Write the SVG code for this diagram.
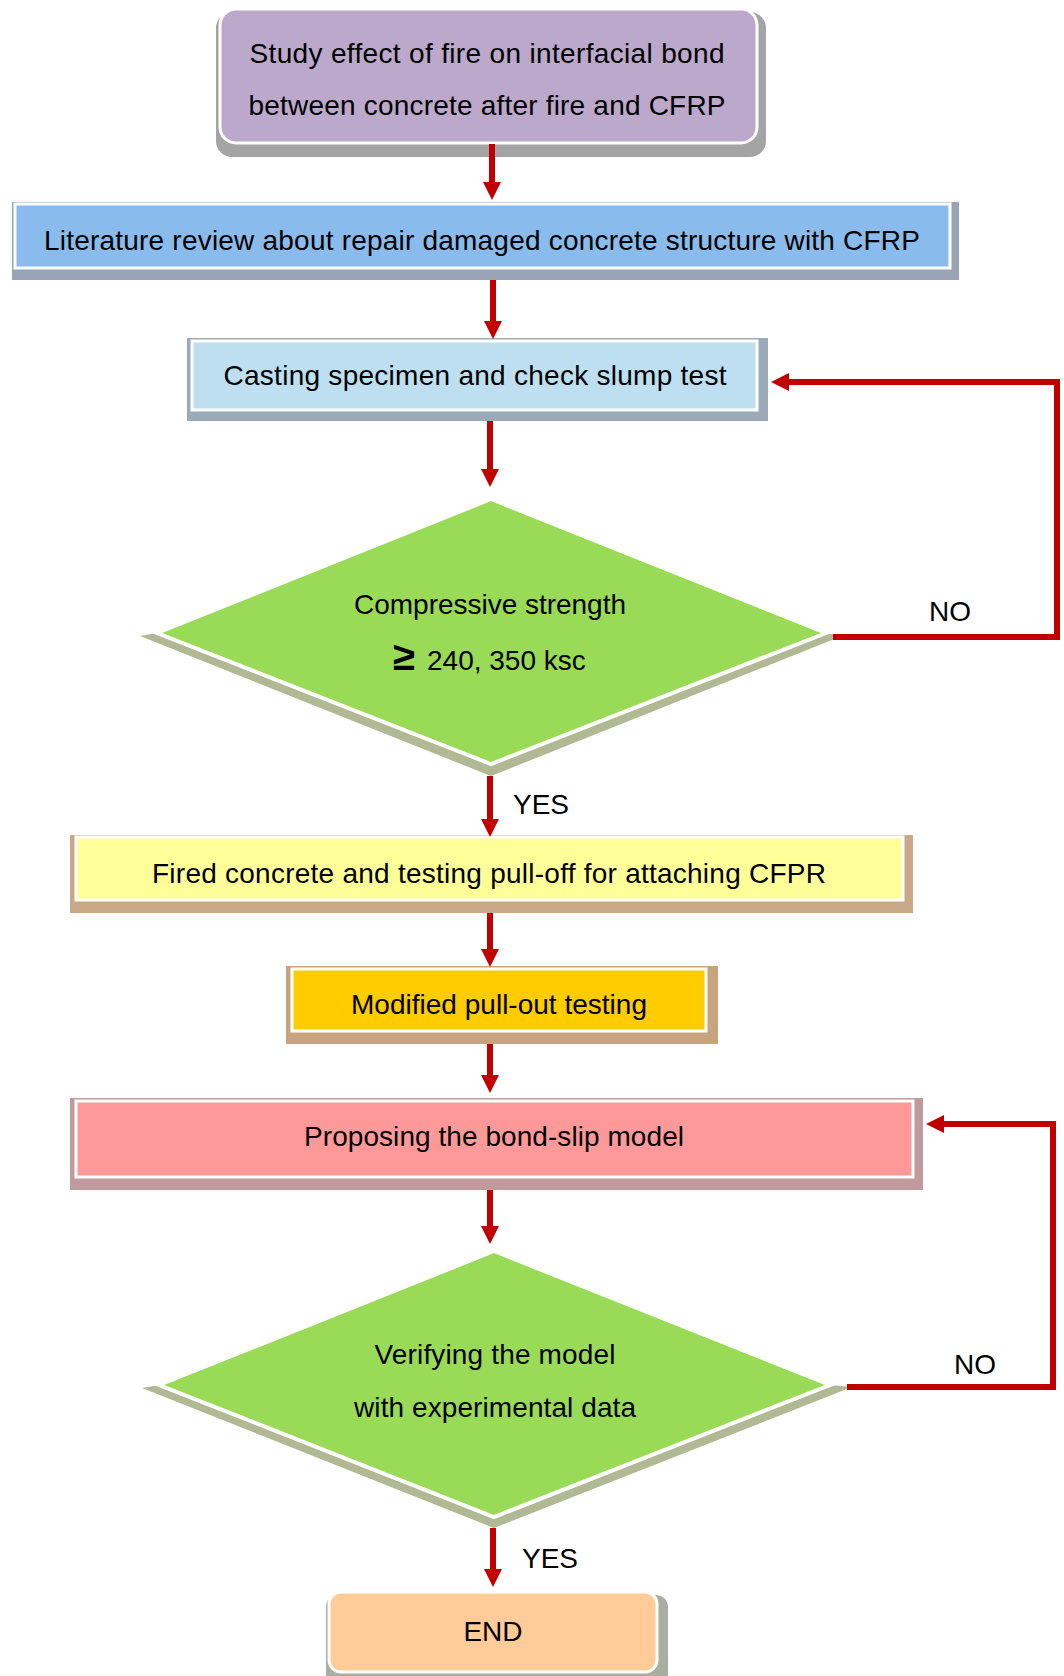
<svg xmlns="http://www.w3.org/2000/svg" width="1064" height="1676" viewBox="0 0 1064 1676">
<defs>
<style>
text{font-family:"Liberation Sans",Arial,sans-serif;font-size:28px;fill:#000;}
.c{text-anchor:middle;}
.box{stroke:#fff;stroke-width:3;}
.conn{fill:none;stroke:#C00000;stroke-width:6;}
</style>
<marker id="ah" markerUnits="userSpaceOnUse" markerWidth="18" markerHeight="18" refX="0" refY="9" orient="auto">
<path d="M0,0 L18,9 L0,18 z" fill="#C00000"/>
</marker>
</defs>
<rect width="1064" height="1676" fill="#fff"/>

<g id="start">
<rect x="216" y="12" width="550" height="145" rx="16" fill="#A4A4A4"/>
<rect class="box" x="220" y="9" width="537" height="134" rx="16" fill="#BBA8CB"/>
<text class="c" x="487" y="63" textLength="475" lengthAdjust="spacing">Study effect of fire on interfacial bond</text>
<text class="c" x="487" y="115" textLength="477" lengthAdjust="spacing">between concrete after fire and CFRP</text>
</g>

<g id="literature">
<rect x="12" y="202" width="947" height="78" fill="#98A4B4"/>
<rect class="box" x="15" y="204" width="935" height="64" fill="#89BBEC"/>
<text class="c" x="482" y="250" textLength="876" lengthAdjust="spacing">Literature review about repair damaged concrete structure with CFRP</text>
</g>

<g id="casting">
<rect x="187" y="338" width="581" height="83" fill="#9AAAB7"/>
<rect class="box" x="192" y="341" width="565" height="69" fill="#BDDFF0"/>
<text class="c" x="475" y="385" textLength="503" lengthAdjust="spacing">Casting specimen and check slump test</text>
</g>

<g id="decision1">
<polygon points="157,633 140,636 491,776 842,636 826,633 491,764" fill="#B0B894"/>
<polygon points="491,499 826,633 491,764 157,633" fill="#99DB56" stroke="#fff" stroke-width="4"/>
<text class="c" x="490" y="614" textLength="272" lengthAdjust="spacing">Compressive strength</text>
<text x="393" y="670"><tspan font-weight="bold" font-size="40">≥</tspan><tspan x="427">240, 350 ksc</tspan></text>
</g>

<g id="fired">
<rect x="70" y="835" width="843" height="78" fill="#C9A888"/>
<rect class="box" x="76" y="837" width="827" height="63" fill="#FFFF99"/>
<text class="c" x="489" y="883" textLength="674" lengthAdjust="spacing">Fired concrete and testing pull-off for attaching CFPR</text>
</g>

<g id="modified">
<rect x="286" y="966" width="432" height="78" fill="#C8A47E"/>
<rect class="box" x="292" y="969" width="414" height="62" fill="#FFCC00"/>
<text class="c" x="499" y="1014" textLength="296" lengthAdjust="spacing">Modified pull-out testing</text>
</g>

<g id="proposing">
<rect x="70" y="1098" width="853" height="92" fill="#C09A9C"/>
<rect class="box" x="76" y="1101" width="837" height="76" fill="#FF9999"/>
<text class="c" x="494" y="1146" textLength="380" lengthAdjust="spacing">Proposing the bond-slip model</text>
</g>

<g id="decision2">
<polygon points="159,1385 142,1388 494,1528 852,1387 830,1385 494,1517" fill="#B0B894"/>
<polygon points="494,1251 830,1385 494,1517 159,1385" fill="#99DB56" stroke="#fff" stroke-width="4"/>
<text class="c" x="495" y="1364" textLength="241" lengthAdjust="spacing">Verifying the model</text>
<text class="c" x="495" y="1417" textLength="282" lengthAdjust="spacing">with experimental data</text>
</g>

<g id="end">
<rect x="326" y="1595" width="342" height="92" rx="12" fill="#A9AE9F"/>
<rect class="box" x="329" y="1592" width="328" height="80" rx="12" fill="#FFCC99"/>
<text class="c" x="493" y="1641">END</text>
</g>

<g id="connectors">
<line class="conn" x1="492" y1="144" x2="492" y2="182" marker-end="url(#ah)"/>
<line class="conn" x1="493" y1="280" x2="493" y2="321" marker-end="url(#ah)"/>
<line class="conn" x1="490" y1="421" x2="490" y2="469" marker-end="url(#ah)"/>
<line class="conn" x1="490" y1="776" x2="490" y2="819" marker-end="url(#ah)"/>
<line class="conn" x1="490" y1="913" x2="490" y2="949" marker-end="url(#ah)"/>
<line class="conn" x1="490" y1="1044" x2="490" y2="1075" marker-end="url(#ah)"/>
<line class="conn" x1="490" y1="1190" x2="490" y2="1226" marker-end="url(#ah)"/>
<line class="conn" x1="493" y1="1528" x2="493" y2="1569" marker-end="url(#ah)"/>
<polyline class="conn" points="833,637 1057,637 1057,382 789,382" marker-end="url(#ah)"/>
<polyline class="conn" points="847,1387 1053,1387 1053,1124 944,1124" marker-end="url(#ah)"/>
<text class="c" x="950" y="621">NO</text>
<text class="c" x="975" y="1374">NO</text>
<text class="c" x="541" y="814">YES</text>
<text class="c" x="550" y="1568">YES</text>
</g>
</svg>
